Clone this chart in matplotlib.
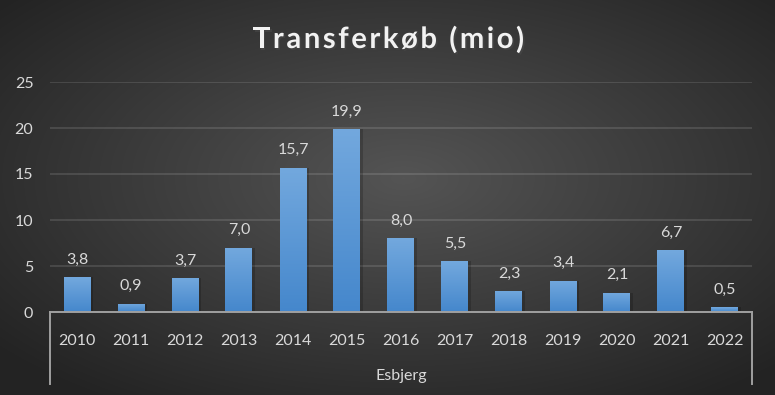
import numpy as np
import matplotlib
matplotlib.use('Agg')
import matplotlib.pyplot as plt
import matplotlib.patheffects as pe

years = ['2010', '2011', '2012', '2013', '2014', '2015', '2016',
         '2017', '2018', '2019', '2020', '2021', '2022']
values = [3.8, 0.9, 3.7, 7.0, 15.7, 19.9, 8.0, 5.5, 2.3, 3.4, 2.1, 6.7, 0.5]
group_label = 'Esbjerg'
title = 'Transferkøb (mio)'
yticks = [0, 5, 10, 15, 20, 25]

W, H = 775, 395
plt.rcParams['font.family'] = ['Lato', 'DejaVu Sans']
txt_color = '#d9d9d9'

fig = plt.figure(figsize=(W / 100, H / 100), dpi=100)

# radial background
bg = fig.add_axes([0, 0, 1, 1], zorder=-10)
yy, xx = np.mgrid[0:H, 0:W]
dx = (xx - W * 0.52) / (W / 2)
dy = (yy - H * 0.45) / (H / 2)
d = np.clip(np.sqrt(dx ** 2 + dy ** 2) / 1.35, 0, 1)
c0, c1 = 0.33, 0.14
g = c0 + (c1 - c0) * d
bg.imshow(np.dstack([g, g, g]), aspect='auto', extent=[0, 1, 0, 1])
bg.axis('off')

ax = fig.add_axes([50 / W, (H - 312) / H, (752 - 50) / W, (312 - 82) / H])
ax.patch.set_alpha(0)
x = np.arange(len(years))
bw = 0.5

# soft shadow
ax.bar(x + 0.05, values, bw, color='black', alpha=0.18, zorder=2)
bars = ax.bar(x, values, bw, color='#5b9bd5', zorder=3)

grad = np.linspace(0, 1, 100).reshape(-1, 1)
top = np.array([0.45, 0.66, 0.87])
bot = np.array([0.27, 0.53, 0.80])
img = top[None, None, :] * (1 - grad[:, :, None]) + bot[None, None, :] * grad[:, :, None]
for b in bars:
    im = ax.imshow(img, aspect='auto', zorder=4,
                   extent=[b.get_x(), b.get_x() + b.get_width(), 0, b.get_height()])
    im.set_clip_path(b)

for xi, v in zip(x, values):
    ax.annotate(f'{v:.1f}'.replace('.', ','), (xi, v), xytext=(0, 7.5),
                textcoords='offset points', ha='center', va='bottom',
                fontsize=11.5, color=txt_color, zorder=5)

ax.set_xlim(-0.5, len(years) - 0.5)
ax.set_ylim(0, 25)
ax.set_yticks(yticks)
ax.set_yticklabels([str(t) for t in yticks], fontsize=11.5, color=txt_color)
ax.set_xticks(x)
ax.set_xticklabels(years, fontsize=11.5, color=txt_color)
ax.tick_params(axis='y', length=0, pad=12)
ax.tick_params(axis='x', length=0, pad=16)
ax.grid(axis='y', color='white', alpha=0.13, linewidth=1.3, zorder=1)
ax.set_axisbelow(True)
for s in ['top', 'right', 'left']:
    ax.spines[s].set_visible(False)
ax.spines['bottom'].set_color('#a0a0a0')
ax.spines['bottom'].set_linewidth(1.4)
ax.spines['bottom'].set_zorder(6)

# category group brackets
depth = (384 - 312) / (312 - 82)
for xe in (0, 1):
    ax.plot([xe, xe], [0, -depth], transform=ax.transAxes, clip_on=False,
            color='#a0a0a0', linewidth=1.4)
ax.text(0.5, -(376 - 312) / (312 - 82), group_label, transform=ax.transAxes,
        ha='center', va='center', fontsize=11.5, color=txt_color)

# title with letter spacing
renderer = fig.canvas.get_renderer()
tkw = dict(fontsize=21, fontweight='bold', color='#f2f2f2', va='center', ha='left',
           path_effects=[pe.withSimplePatchShadow(offset=(1.2, -1.2), alpha=0.6)])
def char_w(c):
    if c == ' ':
        a = fig.text(0, 0, 'a a', **tkw).get_window_extent(renderer).width
        b = fig.text(0, 0, 'aa', **tkw).get_window_extent(renderer).width
        fig.texts[-2:] = []
        return a - b
    t = fig.text(0, 0, c, **tkw)
    w = t.get_window_extent(renderer).width
    t.remove()
    return w
track = 2.6
widths = [char_w(c) for c in title]
total = sum(widths) + track * (len(title) - 1)
xpos = W / 2 + 1 - total / 2
for c, w in zip(title, widths):
    if c != ' ':
        fig.text(xpos / W, 1 - 40 / H, c, **tkw)
    xpos += w + track

fig.savefig('out.png', dpi=100)
